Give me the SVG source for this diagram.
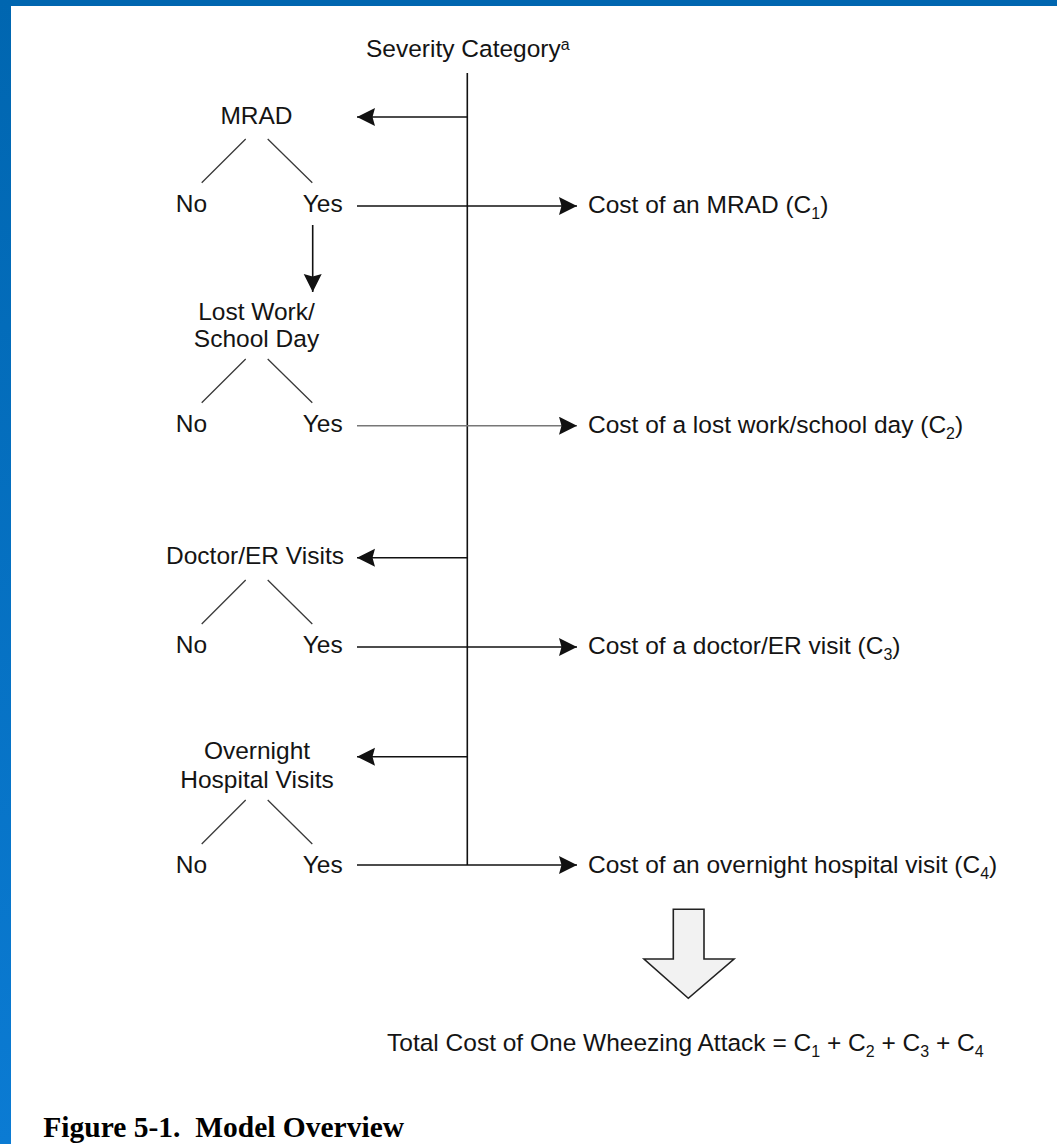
<svg xmlns="http://www.w3.org/2000/svg" width="1057" height="1144" viewBox="0 0 1057 1144">
<defs>
<linearGradient id="bar" x1="0" y1="0" x2="0" y2="1">
<stop offset="0" stop-color="#0066b0"/>
<stop offset="1" stop-color="#0b7bd3"/>
</linearGradient>
<marker id="ah" markerUnits="userSpaceOnUse" markerWidth="20" markerHeight="20" refX="18" refY="9" orient="auto">
<path d="M0,0 L18,9 L0,18 L2.5,9 Z" fill="#111"/>
</marker>
<style>
.t{font-family:"Liberation Sans",Arial,sans-serif;font-size:24.5px;fill:#141414}
.sub{font-size:16px}
.cap{font-family:"Liberation Serif","Times New Roman",serif;font-size:29.5px;font-weight:bold;fill:#000}
.ln{stroke:#111;stroke-width:1.6;fill:none}
.lg{stroke:#777;stroke-width:1.6;fill:none}
.br{stroke:#3a3a3a;stroke-width:1.3;fill:none}
.ar{marker-end:url(#ah)}
</style>
</defs>
<rect x="0" y="0" width="1057" height="1144" fill="#fff"/>
<rect x="0" y="0" width="1057" height="6" fill="#0066b0"/>
<rect x="0" y="0" width="11" height="1144" fill="url(#bar)"/>

<g id="connectors">
<line class="ln" x1="467.3" y1="73" x2="467.3" y2="865"/>
<line class="ln ar" x1="467.3" y1="117" x2="357" y2="117"/>
<line class="ln ar" x1="357" y1="206" x2="577" y2="206"/>
<line class="ln ar" x1="312.7" y1="225" x2="312.7" y2="292"/>
<line class="lg ar" x1="357" y1="425.7" x2="577" y2="425.7"/>
<line class="ln ar" x1="467.3" y1="557.7" x2="357" y2="557.7"/>
<line class="ln ar" x1="357" y1="647" x2="577" y2="647"/>
<line class="ln ar" x1="467.3" y1="756.7" x2="357" y2="756.7"/>
<line class="ln ar" x1="357" y1="865" x2="577" y2="865"/>
<path class="br" d="M245.7,139 L201.7,182.7 M267.7,139 L312.3,182.7"/>
<path class="br" d="M245.7,359 L201.7,402.7 M267.7,359 L312.3,402.7"/>
<path class="br" d="M245.7,580 L201.7,624 M267.7,580 L312.3,624"/>
<path class="br" d="M245.7,800 L201.7,844 M267.7,800 L312.3,844"/>
</g>

<g id="severity"><text class="t" x="366" y="57">Severity Category<tspan class="sub" dy="-7">a</tspan></text></g>

<g id="mrad"><text class="t" x="256.5" y="124" text-anchor="middle">MRAD</text></g>
<g id="mrad-no"><text class="t" x="175.7" y="212">No</text></g>
<g id="mrad-yes"><text class="t" x="302.7" y="212">Yes</text></g>
<g id="cost1"><text class="t" x="588" y="212.5">Cost of an MRAD (C<tspan class="sub" dy="6">1</tspan><tspan dy="-6">)</tspan></text></g>

<g id="lost"><text class="t" x="256.5" y="320" text-anchor="middle">Lost Work/</text><text class="t" x="256.5" y="346.7" text-anchor="middle">School Day</text></g>
<g id="lost-no"><text class="t" x="175.7" y="432">No</text></g>
<g id="lost-yes"><text class="t" x="302.7" y="432">Yes</text></g>
<g id="cost2"><text class="t" x="588" y="433">Cost of a lost work/school day (C<tspan class="sub" dy="6">2</tspan><tspan dy="-6">)</tspan></text></g>

<g id="doctor"><text class="t" x="255" y="564.3" text-anchor="middle">Doctor/ER Visits</text></g>
<g id="doctor-no"><text class="t" x="175.7" y="653.3">No</text></g>
<g id="doctor-yes"><text class="t" x="302.7" y="653.3">Yes</text></g>
<g id="cost3"><text class="t" x="588" y="654">Cost of a doctor/ER visit (C<tspan class="sub" dy="6">3</tspan><tspan dy="-6">)</tspan></text></g>

<g id="overnight"><text class="t" x="257" y="759" text-anchor="middle">Overnight</text><text class="t" x="257" y="788.3" text-anchor="middle">Hospital Visits</text></g>
<g id="overnight-no"><text class="t" x="175.7" y="872.7">No</text></g>
<g id="overnight-yes"><text class="t" x="302.7" y="872.7">Yes</text></g>
<g id="cost4"><text class="t" x="588" y="872.5">Cost of an overnight hospital visit (C<tspan class="sub" dy="6">4</tspan><tspan dy="-6">)</tspan></text></g>

<g id="sum-arrow"><polygon points="673.3,909.3 704,909.3 704,959 734,959 688.3,998.3 644,959 673.3,959" fill="#f2f2f2" stroke="#222" stroke-width="1.6" stroke-linejoin="miter"/></g>

<g id="total"><text class="t" x="387" y="1051">Total Cost of One Wheezing Attack = C<tspan class="sub" dy="6">1</tspan><tspan dy="-6"> + C</tspan><tspan class="sub" dy="6">2</tspan><tspan dy="-6"> + C</tspan><tspan class="sub" dy="6">3</tspan><tspan dy="-6"> + C</tspan><tspan class="sub" dy="6">4</tspan></text></g>

<g id="caption"><text class="cap" x="43.3" y="1136.7" xml:space="preserve">Figure 5-1.  Model Overview</text></g>
</svg>
